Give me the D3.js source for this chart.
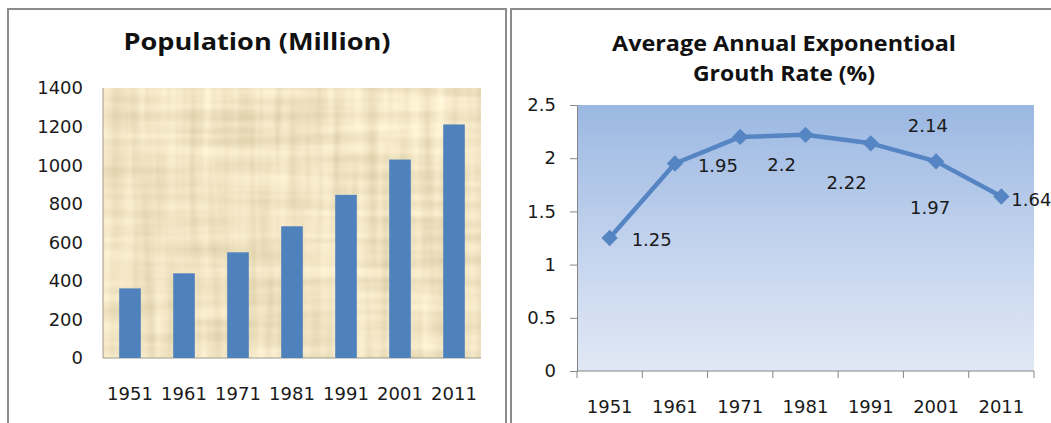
<!DOCTYPE html>
<html>
<head>
<meta charset="utf-8">
<script src="https://cdn.jsdelivr.net/npm/d3@7"></script>
<style>
  body { margin: 0; background: #fff; }
  text { font-family: "DejaVu Sans", sans-serif; fill: #1a1a1a; }
  .title { font-family: "Open Sans", sans-serif; font-weight: bold; fill: #111; }
</style>
</head>
<body>
<svg id="chart" width="1051" height="423"></svg>
<script>
"use strict";

// donnees
const years = ["1951", "1961", "1971", "1981", "1991", "2001", "2011"];
const population = [361, 439, 548, 683, 846, 1029, 1211];
const growthRate = [1.25, 1.95, 2.2, 2.22, 2.14, 1.97, 1.64];
const popTicks = [0, 200, 400, 600, 800, 1000, 1200, 1400];
const rateTicks = [0, 0.5, 1, 1.5, 2, 2.5];
// decalage des etiquettes (dx, dy) comme dans Excel
const rateLabelOffsets = [[22, 2], [23, 2], [27, 28], [21, 48], [37, -18], [-26, 46], [10, 3]];

const svg = d3.select("#chart");
const blue = "#4f81bd";

const defs = svg.append("defs");

// texture papyrus : deux bruits etires (fibres verticales + horizontales)
const f = defs.append("filter").attr("id", "papyrus")
  .attr("x", 0).attr("y", 0).attr("width", 1).attr("height", 1);
f.append("feTurbulence").attr("type", "fractalNoise")
  .attr("baseFrequency", "0.09 0.006").attr("numOctaves", 2).attr("seed", 4).attr("result", "v0");
f.append("feColorMatrix").attr("in", "v0").attr("type", "matrix")
  .attr("values", "1 0 0 0 0  1 0 0 0 0  1 0 0 0 0  0 0 0 0 1").attr("result", "v");
f.append("feTurbulence").attr("type", "fractalNoise")
  .attr("baseFrequency", "0.006 0.09").attr("numOctaves", 2).attr("seed", 9).attr("result", "h0");
f.append("feColorMatrix").attr("in", "h0").attr("type", "matrix")
  .attr("values", "1 0 0 0 0  1 0 0 0 0  1 0 0 0 0  0 0 0 0 1").attr("result", "h");
f.append("feComposite").attr("in", "v").attr("in2", "h").attr("operator", "arithmetic")
  .attr("k1", 0).attr("k2", 0.5).attr("k3", 0.5).attr("k4", 0).attr("result", "n");
f.append("feColorMatrix").attr("in", "n").attr("type", "matrix")
  .attr("values", "0.55 0 0 0 0.6  0.55 0 0 0 0.5  0.55 0 0 0 0.27  0 0 0 0 1");

const grad = defs.append("linearGradient").attr("id", "blueGrad")
  .attr("x1", 0).attr("y1", 0).attr("x2", 0).attr("y2", 1);
grad.append("stop").attr("offset", "0%").attr("stop-color", "#9bb8e2");
grad.append("stop").attr("offset", "55%").attr("stop-color", "#c4d4ee");
grad.append("stop").attr("offset", "100%").attr("stop-color", "#e1e8f5");

// cadres des deux graphiques
svg.append("rect").attr("x", 8).attr("y", 9).attr("width", 498).attr("height", 430)
  .attr("fill", "none").attr("stroke", "#8c8c8c").attr("stroke-width", 2);
svg.append("rect").attr("x", 511).attr("y", 9).attr("width", 560).attr("height", 430)
  .attr("fill", "none").attr("stroke", "#8c8c8c").attr("stroke-width", 2);

/* ---------- Population (Million) ---------- */
const left = svg.append("g");
const x1 = d3.scaleBand().domain(years).range([103, 481]).paddingInner(0.6).paddingOuter(0.3);
const y1 = d3.scaleLinear().domain([0, 1400]).range([358, 88]);

left.append("text")
  .attr("class", "title")
  .attr("x", 257).attr("y", 50)
  .attr("text-anchor", "middle")
  .attr("font-size", 23)
  .attr("textLength", 267).attr("lengthAdjust", "spacingAndGlyphs")
  .text("Population (Million)");

left.append("rect")
  .attr("x", 103).attr("y", y1(1400))
  .attr("width", 378).attr("height", y1(0) - y1(1400))
  .attr("fill", "#ecd9a9")
  .attr("filter", "url(#papyrus)");

left.append("line").attr("x1", 103).attr("x2", 103).attr("y1", y1(1400)).attr("y2", y1(0))
  .attr("stroke", "#a09a88").attr("stroke-width", 1);
left.append("line").attr("x1", 103).attr("x2", 481).attr("y1", y1(0)).attr("y2", y1(0))
  .attr("stroke", "#a09a88").attr("stroke-width", 1);

left.selectAll("rect.bar")
  .data(population)
  .enter()
  .append("rect")
  .attr("class", "bar")
  .attr("x", (d, i) => x1(years[i]))
  .attr("width", x1.bandwidth())
  .attr("y", d => y1(d))
  .attr("height", d => y1(0) - y1(d))
  .attr("fill", blue);

left.selectAll("text.ytick")
  .data(popTicks)
  .enter()
  .append("text")
  .attr("class", "ytick")
  .attr("x", 83).attr("y", d => y1(d))
  .attr("dy", "0.36em")
  .attr("text-anchor", "end")
  .attr("font-size", 18)
  .text(d => d);

left.selectAll("text.xtick")
  .data(years)
  .enter()
  .append("text")
  .attr("class", "xtick")
  .attr("x", d => x1(d) + x1.bandwidth() / 2).attr("y", 400)
  .attr("text-anchor", "middle")
  .attr("font-size", 18)
  .text(d => d);

/* ---------- Average Annual Exponentioal Grouth Rate (%) ---------- */
const right = svg.append("g");
const x2 = d3.scaleBand().domain(years).range([577, 1034]);
const y2 = d3.scaleLinear().domain([0, 2.5]).range([371, 105]);

right.append("text")
  .attr("class", "title")
  .attr("x", 784).attr("y", 51)
  .attr("text-anchor", "middle")
  .attr("font-size", 21)
  .attr("textLength", 344).attr("lengthAdjust", "spacingAndGlyphs")
  .text("Average Annual  Exponentioal");
right.append("text")
  .attr("class", "title")
  .attr("x", 784).attr("y", 81)
  .attr("text-anchor", "middle")
  .attr("font-size", 21)
  .attr("textLength", 182).attr("lengthAdjust", "spacingAndGlyphs")
  .text("Grouth Rate (%)");

right.append("rect")
  .attr("x", 577).attr("y", y2(2.5))
  .attr("width", 457).attr("height", y2(0) - y2(2.5))
  .attr("fill", "url(#blueGrad)");

const yAxis = d3.axisLeft(y2).tickValues(rateTicks).tickSize(7).tickFormat(d => d);
right.append("g")
  .attr("transform", "translate(577,0)")
  .call(yAxis)
  .call(g => g.select(".domain").attr("stroke", "#868686"))
  .call(g => g.selectAll(".tick line").attr("stroke", "#868686"))
  .call(g => g.selectAll(".tick text")
    .attr("x", -21).attr("font-size", 18).attr("font-family", "DejaVu Sans").attr("fill", "#1a1a1a"));

// axe des x : traits entre les categories
const bounds = years.map(d => x2(d)).concat([x2.range()[1]]);
right.append("line").attr("x1", 577).attr("x2", 1034).attr("y1", y2(0)).attr("y2", y2(0))
  .attr("stroke", "#868686");
right.selectAll("line.xt")
  .data(bounds)
  .enter()
  .append("line")
  .attr("class", "xt")
  .attr("x1", d => d).attr("x2", d => d)
  .attr("y1", y2(0)).attr("y2", y2(0) + 7)
  .attr("stroke", "#868686");

right.selectAll("text.xtick")
  .data(years)
  .enter()
  .append("text")
  .attr("class", "xtick")
  .attr("x", d => x2(d) + x2.bandwidth() / 2).attr("y", 413)
  .attr("text-anchor", "middle")
  .attr("font-size", 18)
  .text(d => d);

const px = (d, i) => x2(years[i]) + x2.bandwidth() / 2;
const line = d3.line().x(px).y(d => y2(d));

right.append("path")
  .datum(growthRate)
  .attr("d", line)
  .attr("fill", "none")
  .attr("stroke", "#5585c3")
  .attr("stroke-width", 4.5)
  .attr("stroke-linejoin", "round");

right.selectAll("path.marker")
  .data(growthRate)
  .enter()
  .append("path")
  .attr("class", "marker")
  .attr("d", d3.symbol().type(d3.symbolDiamond2).size(170))
  .attr("transform", (d, i) => "translate(" + px(d, i) + "," + y2(d) + ")")
  .attr("fill", "#5585c3");

right.selectAll("text.lbl")
  .data(growthRate)
  .enter()
  .append("text")
  .attr("class", "lbl")
  .attr("x", (d, i) => px(d, i) + rateLabelOffsets[i][0])
  .attr("y", (d, i) => y2(d) + rateLabelOffsets[i][1])
  .attr("dy", "0.36em")
  .attr("font-size", 18)
  .text(d => d);
</script>
</body>
</html>
